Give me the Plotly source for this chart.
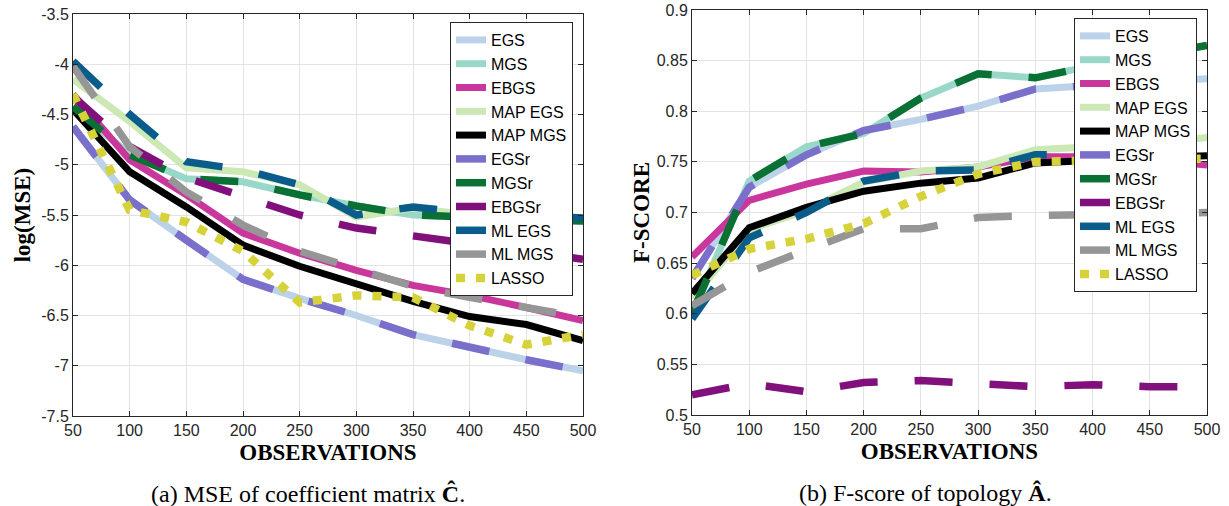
import plotly.graph_objects as go

# ---------------- data ----------------
x_obs = [50, 100, 150, 200, 250, 300, 350, 400, 450, 500]

series_names = ["EGS", "MGS", "EBGS", "MAP EGS", "MAP MGS", "EGSr", "MGSr",
                "EBGSr", "ML EGS", "ML MGS", "LASSO"]

# (a) log(MSE) of coefficient matrix
mse_egs = [-4.62, -5.35, -5.75, -6.14, -6.33, -6.50, -6.69, -6.82, -6.94, -7.05]
mse_mgs = [-4.42, -4.90, -5.14, -5.17, -5.30, -5.41, -5.50, -5.52, -5.54, -5.56]
mse_ebgs = [-4.30, -4.95, -5.30, -5.68, -5.88, -6.05, -6.20, -6.30, -6.42, -6.55]
mse_map_egs = [-4.15, -4.57, -5.03, -5.07, -5.20, -5.52, -5.43, -5.50, -5.52, -5.55]
mse_map_mgs = [-4.45, -5.07, -5.42, -5.80, -6.01, -6.18, -6.36, -6.51, -6.59, -6.75]
mse_egsr = [-4.62, -5.35, -5.75, -6.14, -6.33, -6.50, -6.69, -6.82, -6.94, -7.05]
mse_mgsr = [-4.42, -4.90, -5.14, -5.17, -5.30, -5.41, -5.50, -5.52, -5.54, -5.56]
mse_ebgsr = [-4.32, -4.82, -5.13, -5.32, -5.50, -5.63, -5.71, -5.78, -5.86, -5.94]
mse_ml_egs = [-3.97, -4.50, -4.97, -5.05, -5.20, -5.50, -5.42, -5.48, -5.50, -5.53]
mse_ml_mgs = [-4.02, -4.82, -5.27, -5.60, -5.86, -6.04, -6.21, -6.32, -6.42, -6.52]
mse_lasso = [-4.30, -5.45, -5.57, -5.86, -6.37, -6.30, -6.32, -6.60, -6.79, -6.69]

# (b) F-score of topology
f_egs = [0.635, 0.725, 0.757, 0.781, 0.792, 0.805, 0.822, 0.826, 0.829, 0.832]
f_mgs = [0.600, 0.731, 0.765, 0.778, 0.813, 0.837, 0.833, 0.845, 0.855, 0.865]
f_ebgs = [0.656, 0.712, 0.728, 0.741, 0.740, 0.745, 0.755, 0.755, 0.752, 0.747]
f_map_egs = [0.615, 0.683, 0.702, 0.730, 0.741, 0.745, 0.762, 0.765, 0.768, 0.774]
f_map_mgs = [0.620, 0.685, 0.705, 0.721, 0.729, 0.734, 0.749, 0.752, 0.754, 0.756]
f_egsr = [0.635, 0.725, 0.757, 0.781, 0.792, 0.805, 0.822, 0.826, 0.829, 0.832]
f_mgsr = [0.600, 0.731, 0.765, 0.778, 0.813, 0.837, 0.833, 0.845, 0.855, 0.865]
f_ebgsr = [0.520, 0.531, 0.523, 0.532, 0.534, 0.531, 0.528, 0.530, 0.528, 0.528]
f_ml_egs = [0.595, 0.675, 0.700, 0.731, 0.741, 0.742, 0.757, 0.757, 0.758, 0.760]
f_ml_mgs = [0.608, 0.641, 0.663, 0.684, 0.684, 0.695, 0.697, 0.698, 0.699, 0.700]
f_lasso = [0.638, 0.664, 0.674, 0.689, 0.716, 0.738, 0.750, 0.752, 0.753, 0.753]

mse_series = [mse_egs, mse_mgs, mse_ebgs, mse_map_egs, mse_map_mgs, mse_egsr,
              mse_mgsr, mse_ebgsr, mse_ml_egs, mse_ml_mgs, mse_lasso]
f_series = [f_egs, f_mgs, f_ebgs, f_map_egs, f_map_mgs, f_egsr, f_mgsr,
            f_ebgsr, f_ml_egs, f_ml_mgs, f_lasso]

x_ticks = [50, 100, 150, 200, 250, 300, 350, 400, 450, 500]
x_ticklabels = ["50", "100", "150", "200", "250", "300", "350", "400", "450", "500"]
mse_ticks = [-7.5, -7, -6.5, -6, -5.5, -5, -4.5, -4, -3.5]
mse_ticklabels = ["-7.5", "-7", "-6.5", "-6", "-5.5", "-5", "-4.5", "-4", "-3.5"]
f_ticks = [0.5, 0.55, 0.6, 0.65, 0.7, 0.75, 0.8, 0.85, 0.9]
f_ticklabels = ["0.5", "0.55", "0.6", "0.65", "0.7", "0.75", "0.8", "0.85", "0.9"]

# ---------------- styles ----------------
colors = ["#bcd2e8", "#99d8c9", "#c9379d", "#cce8b5", "#000000", "#7a70cb",
          "#0a7033", "#810f7c", "#0a5d8a", "#969696", "#d6d33a"]
DASH = "38px,37px"
DOT = "9px,11px"
dashes = ["solid", "solid", "solid", "solid", "solid", DASH, DASH, DASH, DASH, DASH, DOT]
widths = [7, 7, 7, 7, 7, 7.5, 7.5, 7.5, 7.5, 7.5, 8.5]

W, H = 1229, 506
AX = "#262626"
TICKFONT = dict(family="Liberation Sans, Arial, sans-serif", size=16, color=AX)
SERIF = "Liberation Serif, Times New Roman, serif"
TITLEFONT = dict(family=SERIF, size=23, color="black")

fig = go.Figure()

for name, ys, c, d, w in zip(series_names, mse_series, colors, dashes, widths):
    fig.add_trace(go.Scatter(x=x_obs, y=ys, name=name, mode="lines",
                             line=dict(color=c, dash=d, width=w),
                             xaxis="x", yaxis="y", legend="legend"))
for name, ys, c, d, w in zip(series_names, f_series, colors, dashes, widths):
    fig.add_trace(go.Scatter(x=x_obs, y=ys, name=name, mode="lines",
                             line=dict(color=c, dash=d, width=w),
                             xaxis="x2", yaxis="y2", legend="legend2"))


def px_x(p):
    return p / W


def px_y(p):
    return 1 - p / H


common_axis = dict(showline=True, linecolor=AX, linewidth=1, mirror="ticks",
                   ticks="inside", ticklen=5, tickcolor=AX, tickwidth=1,
                   showgrid=True, gridcolor="#e3e3e3", gridwidth=1,
                   zeroline=False, tickfont=TICKFONT, automargin=False)

legend_common = dict(bgcolor="white", bordercolor=AX, borderwidth=1,
                     font=dict(family="Liberation Sans, Arial, sans-serif", size=16, color="black"),
                     xanchor="right", yanchor="top", tracegroupgap=0,
                     itemsizing="trace")

fig.update_layout(
    width=W, height=H, margin=dict(l=0, r=0, t=0, b=0, autoexpand=False),
    paper_bgcolor="white", plot_bgcolor="white",
    xaxis=dict(domain=[px_x(73), px_x(583)], range=[50, 500], anchor="y",
               tickvals=x_ticks, ticktext=x_ticklabels,
               title=dict(text="<b>OBSERVATIONS</b>", standoff=5, font=TITLEFONT),
               **common_axis),
    yaxis=dict(domain=[px_y(416), px_y(14)], range=[-7.5, -3.5], anchor="x",
               tickvals=mse_ticks, ticktext=mse_ticklabels,
               title=dict(text="<b>log(MSE)</b>", standoff=4, font=TITLEFONT),
               **common_axis),
    xaxis2=dict(domain=[px_x(692), px_x(1207)], range=[50, 500], anchor="y2",
                tickvals=x_ticks, ticktext=x_ticklabels,
                title=dict(text="<b>OBSERVATIONS</b>", standoff=5, font=TITLEFONT),
                **common_axis),
    yaxis2=dict(domain=[px_y(415), px_y(10)], range=[0.5, 0.9], anchor="x2",
                tickvals=f_ticks, ticktext=f_ticklabels,
                title=dict(text="<b>F-SCORE</b>", standoff=0, font=TITLEFONT),
                **common_axis),
    legend=dict(x=px_x(573), y=px_y(22), **legend_common),
    legend2=dict(x=px_x(1197), y=px_y(18), **legend_common),
    annotations=[
        dict(text="(a) MSE of coefficient matrix <b>Ĉ</b>.", x=px_x(308), y=px_y(493),
             xref="paper", yref="paper", showarrow=False, xanchor="center", yanchor="middle",
             font=dict(family=SERIF, size=24, color="black")),
        dict(text="(b) F-score of topology <b>Â</b>.", x=px_x(925), y=px_y(493),
             xref="paper", yref="paper", showarrow=False, xanchor="center", yanchor="middle",
             font=dict(family=SERIF, size=24, color="black")),
    ],
)

fig.write_html("out.html",
               config={"displayModeBar": False},
               post_script="document.body.style.margin='0px';"
                           "document.body.style.overflow='hidden';")
